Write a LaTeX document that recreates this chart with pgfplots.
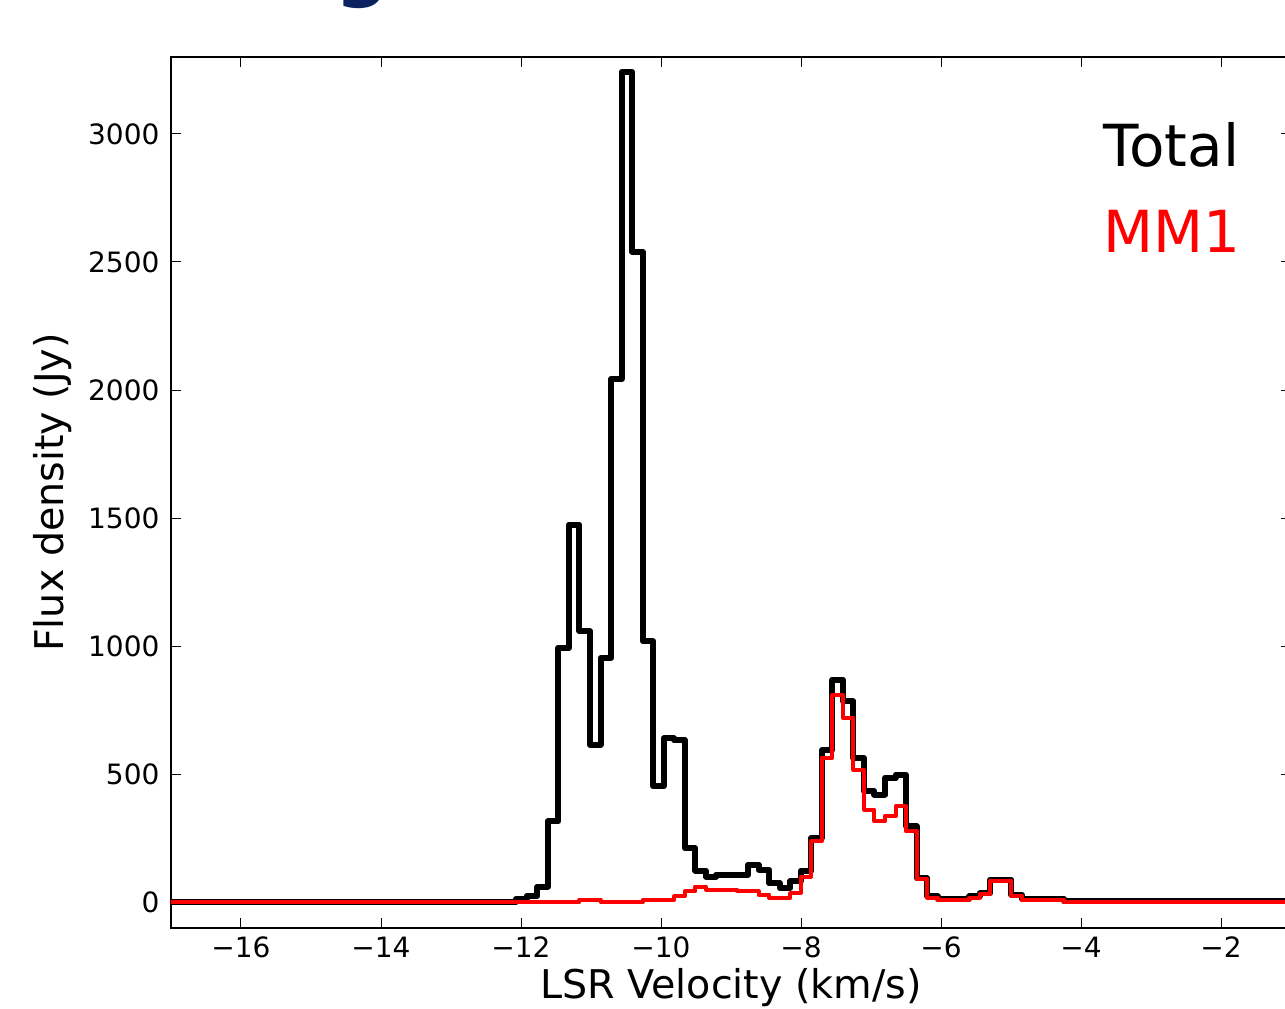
\documentclass[border=0pt]{standalone}
\usepackage{pgfplots}
\pgfplotsset{compat=1.18}
\usepackage{fontspec}
\setmainfont{DejaVu Sans}
\setsansfont{DejaVu Sans}
\definecolor{titlenavy}{RGB}{12,33,96}

\begin{document}
\begin{tikzpicture}
  \begin{axis}[
    at={(0,0)}, anchor=south west,
    scale only axis,
    width=560pt, height=435.5pt,
    xmin=-17, xmax=-1,
    ymin=-100, ymax=3300,
    xtick={-16,-14,-12,-10,-8,-6,-4,-2},
    xticklabels={−16,−14,−12,−10,−8,−6,−4,−2},
    ytick={0,500,1000,1500,2000,2500,3000},
    yticklabels={0,500,1000,1500,2000,2500,3000},
    minor tick num=0,
    tick align=inside,
    major tick length=5pt,
    major tick style={line width=0.5pt, black},
    axis line style={line width=1pt},
    tick label style={font=\fontsize{14}{17}\selectfont},
    xticklabel style={anchor=base, inner sep=0pt, yshift=-14.5pt},
    yticklabel style={anchor=east, inner sep=0pt, xshift=-5.6pt},
    xlabel={LSR Velocity (km/s)},
    ylabel={Flux density (Jy)},
    label style={font=\fontsize{19.8}{23}\selectfont},
    xlabel style={at={(axis description cs:0.5,-0.0809)}, anchor=base},
    ylabel style={at={(axis description cs:-0.0961,0.5)}, anchor=base},
  ]

  % total spectrum
  \addplot[const plot, black, line width=3pt, line join=round] coordinates {
    (-17.5,2) (-12.2185,2) (-12.068,15) (-11.9175,25) (-11.767,62)
    (-11.6165,316) (-11.466,994) (-11.3155,1475) (-11.165,1059)
    (-11.0145,616) (-10.864,954) (-10.7135,2043) (-10.563,3242)
    (-10.4125,2539) (-10.262,1019) (-10.1115,453) (-9.961,640)
    (-9.8105,633) (-9.66,212) (-9.5095,124) (-9.359,101) (-9.2085,108)
    (-9.058,108) (-8.9075,108) (-8.757,147) (-8.6065,128) (-8.456,75)
    (-8.3055,56) (-8.155,82) (-8.0045,124) (-7.854,251) (-7.7035,593)
    (-7.553,870) (-7.4025,785) (-7.252,564) (-7.1015,434) (-6.951,421)
    (-6.8005,486) (-6.65,499) (-6.4995,297) (-6.349,95) (-6.1985,23)
    (-6.048,14) (-5.5965,23) (-5.446,36) (-5.2955,89) (-4.9945,30)
    (-4.844,14) (-4.242,4) (-0.5,4)
  };

  % MM1
  \addplot[const plot, red, line width=2pt, line join=round] coordinates {
    (-17.5,0) (-11.165,10) (-10.864,0) (-10.262,10) (-9.8105,23)
    (-9.66,43) (-9.5095,62) (-9.359,50) (-8.9075,43) (-8.6065,30)
    (-8.456,17) (-8.155,36) (-8.0045,101) (-7.854,238) (-7.7035,564)
    (-7.553,811) (-7.4025,720) (-7.252,518) (-7.1015,362) (-6.951,316)
    (-6.8005,336) (-6.65,375) (-6.4995,277) (-6.349,92) (-6.1985,19)
    (-6.048,10) (-5.5965,19) (-5.446,32) (-5.2955,85) (-4.9945,26)
    (-4.844,10) (-4.242,1) (-0.5,1)
  };

  \node[anchor=base west, inner sep=0pt, font=\fontsize{29}{34}\selectfont, black]
    at (axis cs:-3.683,2871) {Total};
  \node[anchor=base west, inner sep=0pt, font=\fontsize{29}{34}\selectfont, red]
    at (axis cs:-3.683,2537) {MM1};
  \end{axis}

  % bottom of the slide title, cut off by the frame
  \node[anchor=base, inner sep=0pt, text=titlenavy,
    font=\fontsize{37.5}{40}\selectfont\bfseries] at (95.5pt,467.5pt) {g};

  \pgfresetboundingbox
  \path[use as bounding box] (-85.5pt,-40pt) rectangle (557pt,464pt);
\end{tikzpicture}
\end{document}
